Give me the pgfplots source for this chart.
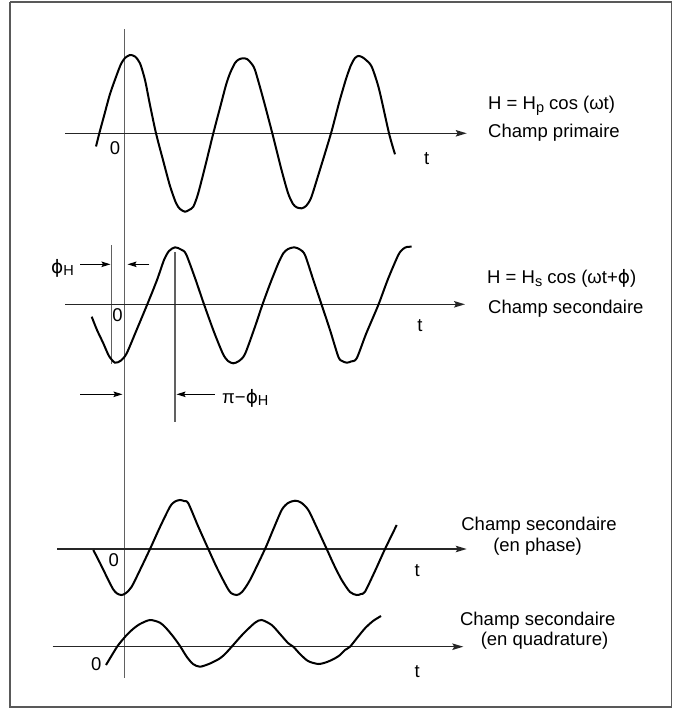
\documentclass[border=0pt]{standalone}
\usepackage{fontspec}
\setmainfont{Liberation Sans}
\newfontfamily\dejavu{DejaVu Sans}
\newcommand{\phisym}{{\dejavu ϕ}}
\newcommand{\sub}[1]{\raisebox{-0.3ex}{\fontsize{14.5bp}{14.5bp}\selectfont #1}}
\usepackage{pgfplots}
\pgfplotsset{compat=1.18}
\usetikzlibrary{arrows.meta}
\tikzset{
  wave/.style={black, line width=2bp, smooth, tension=0.45},
  tline/.style={black!85, line width=1.3bp, -{Stealth[length=11bp,width=6.5bp,inset=2bp]}},
  vline/.style={black!62, line width=1.3bp},
  dim/.style={black, line width=1.1bp, -{Stealth[length=9bp,width=5.5bp,inset=1.5bp]}},
  lbl/.style={font=\fontsize{18.5bp}{22bp}\selectfont, inner sep=0pt},
}
\begin{document}
\begin{tikzpicture}
\begin{axis}[
  width=673bp, height=710bp, scale only axis,
  xmin=0, xmax=673, ymin=0, ymax=710, y dir=reverse,
  hide axis, clip=false,
]
% page extent
\addplot[draw=none, forget plot] coordinates {(0,0) (673,710)};
\path (axis cs:0,0) rectangle (axis cs:673,710);
% frame
\addplot[black!65, line width=1.5bp] coordinates {(10,2) (671.5,2) (671.5,707) (10,707) (10,2)};
% vertical reference lines
\addplot[vline] coordinates {(124.5,29.3) (124.5,678.3)};
\addplot[vline] coordinates {(111.5,245) (111.5,364)};
\addplot[vline] coordinates {(175,252) (175,421.7)};
% time axes
\addplot[tline] coordinates {(65,133.3) (466.7,133.3)};
\addplot[tline] coordinates {(65,304.3) (465,304.3)};
\addplot[tline] coordinates {(57.3,549) (466.7,549)};
\addplot[tline] coordinates {(52.7,646.7) (463.3,646.7)};
% primary field
\addplot[wave] coordinates {
(96,146.5) (99.3,133.3) (104,116) (110,94) (116.7,75) (121,64) (125,58) (130,55)
(135,56.5) (140,63.3) (145,80) (150,105) (156,133.3) (163,160) (170,186) (176,203)
(180,209) (185,211.7) (189,210) (193.3,206.7) (198,194) (205,167) (213.3,133.3)
(221,104) (226,85) (230,73.3) (235,63) (238.7,59.5) (242.7,58.3) (247,59) (251,63)
(255,70) (263,98) (272.3,133.3) (281,168) (288,193) (293,204) (297,207.5) (301.7,208.3)
(306,206) (311,198) (318,176) (331,133.3) (339,103) (346,79) (351,65) (355,58)
(358.3,56) (362,57) (366,60) (371.7,66.7) (379,89) (389,133.3) (395,154.3)};
% secondary field
\addplot[wave] coordinates {
(91.7,316.7) (97,330) (103.3,343.3) (109,356) (115,362.7) (121,360.5) (126.7,353.3)
(137,329) (147.3,304.3) (157,280) (164,260) (169,251) (175,247.3) (181,249.5) (186,254)
(195,278) (204,304.3) (214,332) (223,354) (228,361) (233.3,363.3) (239,361) (245,354)
(255,326.7) (262.3,305) (270,284) (278.3,263.3) (283.3,253.3) (288,249) (294.3,247.3)
(300,249.5) (305,255) (313,279) (321.7,305) (330,330) (338.3,356.7) (342,361)
(346.7,362.7) (351,361.5) (356.7,358.3) (366,334) (378.3,305) (388,279) (398.3,255)
(403,249) (406.7,247) (411.7,246.7)};
% in phase
\addplot[wave] coordinates {
(93.3,550) (100,563) (106.7,576.7) (113,589) (117,593.5) (121.7,595) (126,593)
(131.7,586.7) (140,570) (150,549) (160,527) (170,506.7) (175,501.5) (180,500) (184,501)
(188.3,503.3) (198,526) (208.3,549) (217,568) (226.7,586.7) (231,593) (236.7,595)
(242,592) (250,580) (265,549) (273,530) (281.7,510) (288,503) (295,500.7) (301,502.5)
(308.3,510) (317,528) (326.7,549) (334,565) (341.7,580) (350,592) (356.7,595) (361,594)
(365,591.7) (375,571) (385,549) (396.7,525)};
% quadrature
\addplot[wave] coordinates {
(106,665) (112,655) (118.3,645) (126.7,635) (133,629) (140,624) (150,620) (160,622.7)
(166,628) (173.3,636.7) (180,646) (186.7,656.7) (193,664) (200,666.7) (210,663.5)
(220,658.3) (226,653) (231.7,646.7) (243,634) (255,622.7) (261.7,620) (271.7,625)
(280,634) (288.3,643.3) (293.3,646.7) (300,654) (308,661) (318.3,664) (327,662)
(335,658.3) (340,655) (345,650) (350,646.7) (357,638) (365,628.3) (373,621) (381,616)};
% dimension arrows
\addplot[dim] coordinates {(80,264.3) (110.5,264.3)};
\addplot[dim] coordinates {(149.3,264.3) (127.5,264.3)};
\addplot[dim] coordinates {(80,394.3) (122.5,394.3)};
\addplot[dim] coordinates {(214.6,394.3) (176.5,394.3)};
% labels
\node[lbl, anchor=base east] at (axis cs:74,273) {\phisym\sub{H}};
\node[lbl, anchor=base west] at (axis cs:222,403) {π−\phisym\sub{H}};
\node[lbl, anchor=base] at (axis cs:115,154) {0};
\node[lbl, anchor=base] at (axis cs:117.5,321.7) {0};
\node[lbl, anchor=base] at (axis cs:113.8,566.7) {0};
\node[lbl, anchor=base] at (axis cs:96.2,670) {0};
\node[lbl, anchor=base] at (axis cs:426.7,164) {t};
\node[lbl, anchor=base] at (axis cs:420,331.7) {t};
\node[lbl, anchor=base] at (axis cs:417.3,576.7) {t};
\node[lbl, anchor=base] at (axis cs:417.3,677.3) {t};
\node[lbl, anchor=base west] at (axis cs:488,109.5) {H = H\sub{p} cos (ωt)};
\node[lbl, anchor=base west] at (axis cs:488,138) {Champ primaire};
\node[lbl, anchor=base west] at (axis cs:487,283.3) {H = H\sub{s} cos (ωt+\phisym)};
\node[lbl, anchor=base west] at (axis cs:488,313.3) {Champ secondaire};
\node[lbl, anchor=base] at (axis cs:539,530) {Champ secondaire};
\node[lbl, anchor=base] at (axis cs:537.5,551.7) {(en phase)};
\node[lbl, anchor=base] at (axis cs:537.7,625) {Champ secondaire};
\node[lbl, anchor=base] at (axis cs:544.5,645) {(en quadrature)};
\end{axis}
\end{tikzpicture}
\end{document}
